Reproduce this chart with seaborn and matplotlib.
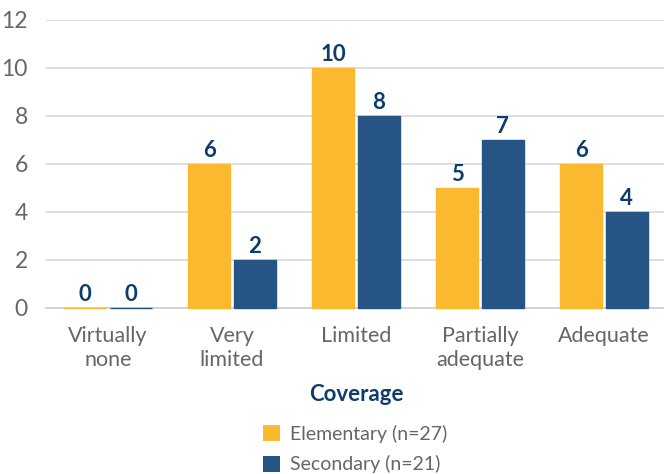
import matplotlib
matplotlib.use("Agg")
import matplotlib.pyplot as plt
import seaborn as sns
import pandas as pd
from matplotlib.patches import Patch

categories = ["Virtually\nnone", "Very\nlimited", "Limited", "Partially\nadequate", "Adequate"]
series_names = ["Elementary (n=27)", "Secondary (n=21)"]
elementary = [0, 6, 10, 5, 6]
secondary = [0, 2, 8, 7, 4]
colors = ["#FBB92F", "#265484"]
label_color = "#0E3C6B"
text_gray = "#666666"

df = pd.DataFrame({
    "Coverage": categories * 2,
    "Count": elementary + secondary,
    "Group": [series_names[0]] * len(categories) + [series_names[1]] * len(categories),
})

sns.set_theme(style="white")
plt.rcParams["font.family"] = ["Lato", "DejaVu Sans"]

fig = plt.figure(figsize=(6.64, 4.74), dpi=100)
ax = fig.add_axes([46 / 664, (474 - 308) / 474, 620 / 664, 288 / 474])

sns.barplot(data=df, x="Coverage", y="Count", hue="Group", palette=colors,
            width=0.73, gap=0.07, ax=ax, legend=False, saturation=1)

for patch in ax.patches:
    patch.set_edgecolor(patch.get_facecolor())
    patch.set_linewidth(1.0)
    patch.set_clip_on(False)
    patch.set_zorder(3)

for container in ax.containers:
    ax.bar_label(container, fmt="%d", padding=2, fontsize=16, fontweight="bold",
                 color=label_color)

ax.set_ylim(0, 12)
ax.set_xlim(-0.5, 4.5)
ax.set_yticks(range(0, 13, 2))
ax.yaxis.grid(True, color="#D9D9D9", linewidth=1.2)
ax.set_axisbelow(True)
for s in ["top", "right", "left"]:
    ax.spines[s].set_visible(False)
ax.spines["bottom"].set_color("#D0D0D0")
ax.spines["bottom"].set_linewidth(1.2)
ax.spines["bottom"].set_zorder(1)

ax.tick_params(axis="y", length=0, pad=13, labelsize=16.5, labelcolor=text_gray)
ax.tick_params(axis="x", which="major", length=0, pad=13, labelsize=15.5, labelcolor=text_gray)
ax.set_xticks([i - 0.5 for i in range(len(categories) + 1)], minor=True)
ax.tick_params(axis="x", which="minor", length=7, width=1.2, color="#D0D0D0")
for lbl in ax.get_xticklabels():
    lbl.set_linespacing(1.25)
    lbl.set_verticalalignment("top")

ax.set_ylabel("")
ax.set_xlabel("Coverage", fontsize=16, fontweight="bold", color=label_color, labelpad=10)

handles = [Patch(facecolor=c, edgecolor="none") for c in colors]
fig.legend(handles, series_names, loc="center", bbox_to_anchor=(355 / 664, (474 - 449) / 474),
           frameon=False, fontsize=14, labelcolor=text_gray, handlelength=0.9, handleheight=0.9,
           handletextpad=0.5, labelspacing=0.65, borderpad=0)

fig.savefig("out.png", dpi=100)
